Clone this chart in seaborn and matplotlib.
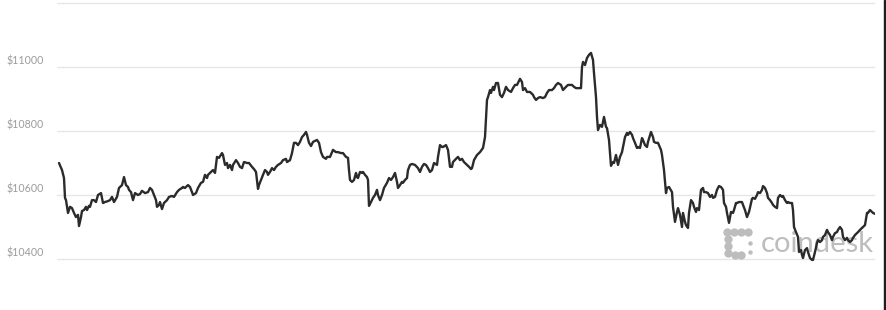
import matplotlib
matplotlib.use("Agg")
import matplotlib.pyplot as plt
from matplotlib.transforms import ScaledTranslation
from matplotlib.lines import Line2D
import seaborn as sns
import pandas as pd

# time (arbitrary minute-like units along the day) and BTC price (USD)
t = [59,62,64,65,66,68,70,72,74,76,78,79,81,82,84,86,87,89,90,92,94,96,98,101,103,105,108,110,112,114,117,119,122,124,126,128,129,131,133,135,138,140,142,145,148,150,152,154,156,157,159,160,162,164,167,169,172,174,177,179,182,183,185,188,190,192,193,196,198,201,203,205,207,208,211,213,215,217,219,222,223,225,227,228,230,232,233,236,238,240,242,244,247,249,252,254,256,258,259,261,263,265,267,268,270,272,274,276,278,281,283,286,287,290,292,294,296,298,300,302,304,306,307,309,311,313,315,317,319,321,323,326,327,329,330,333,336,338,341,343,346,348,349,350,352,354,356,357,358,360,362,363,365,367,368,369,371,373,375,377,378,380,382,384,387,389,391,393,395,397,398,400,402,403,405,407,408,410,412,415,418,420,422,424,426,428,430,432,434,437,438,440,442,443,446,448,450,452,453,456,458,460,462,464,467,469,471,472,474,477,480,483,485,487,488,490,491,493,494,496,498,500,502,504,506,508,511,513,515,517,520,522,523,525,527,530,533,534,536,538,540,543,545,547,549,552,554,556,558,561,563,566,568,572,574,576,578,581,582,583,585,587,589,591,593,594,596,597,598,600,602,604,606,607,609,611,613,614,616,617,618,620,622,623,625,627,628,630,632,633,635,637,638,640,642,643,645,647,648,651,653,654,656,658,661,662,664,666,667,669,672,673,675,677,678,680,682,683,685,686,688,689,691,693,694,696,697,699,701,703,704,706,708,710,712,713,715,717,719,721,723,724,726,727,729,731,733,734,736,737,739,742,743,745,747,749,752,753,755,757,758,760,762,763,765,767,768,770,772,773,775,777,778,780,782,783,785,787,788,790,792,793,794,796,798,799,801,802,803,805,807,808,810,812,813,815,817,818,820,822,823,825,827,828,830,832,833,835,837,838,840,842,843,845,847,848,850,852,853,855,857,858,860,862,863,865,867,868,870,872,873,875]

price = [10700,10678,10653,10591,10584,10544,10563,10559,10544,10531,10538,10503,10531,10550,10553,10563,10553,10566,10563,10584,10584,10578,10600,10606,10575,10578,10581,10584,10594,10578,10594,10622,10631,10656,10631,10625,10616,10609,10584,10606,10600,10603,10613,10606,10609,10622,10616,10600,10584,10563,10569,10578,10556,10575,10584,10594,10597,10594,10609,10616,10622,10625,10622,10631,10625,10609,10600,10606,10622,10638,10641,10663,10653,10663,10672,10678,10669,10719,10716,10731,10725,10694,10700,10684,10694,10678,10694,10709,10700,10688,10684,10703,10700,10700,10688,10681,10672,10619,10631,10647,10663,10678,10672,10663,10672,10684,10678,10688,10694,10700,10709,10713,10703,10709,10731,10763,10763,10756,10766,10781,10788,10797,10788,10763,10753,10766,10769,10772,10763,10734,10719,10713,10719,10719,10719,10741,10734,10734,10731,10731,10719,10716,10678,10647,10641,10647,10669,10656,10653,10672,10669,10672,10663,10656,10647,10566,10578,10591,10600,10616,10600,10584,10600,10622,10638,10653,10647,10656,10669,10641,10622,10631,10641,10638,10647,10653,10678,10694,10697,10694,10684,10672,10688,10697,10694,10684,10672,10678,10700,10694,10719,10756,10750,10750,10756,10741,10688,10688,10703,10713,10719,10709,10713,10703,10694,10688,10681,10684,10709,10725,10734,10747,10781,10897,10906,10928,10919,10938,10928,10950,10950,10913,10906,10919,10938,10928,10922,10934,10944,10944,10963,10953,10928,10934,10922,10922,10913,10906,10897,10903,10906,10903,10906,10919,10928,10928,10934,10944,10950,10944,10928,10938,10944,10944,10938,10934,10934,10934,11000,11016,11006,11028,11038,11044,11022,10981,10906,10844,10803,10819,10813,10844,10813,10809,10772,10691,10703,10700,10725,10709,10694,10719,10734,10750,10781,10794,10788,10797,10788,10778,10763,10747,10750,10747,10778,10772,10756,10750,10766,10797,10781,10766,10763,10763,10741,10725,10678,10606,10622,10625,10609,10563,10516,10547,10559,10538,10500,10544,10516,10506,10497,10544,10584,10575,10563,10547,10559,10553,10616,10622,10609,10609,10606,10594,10600,10591,10594,10616,10628,10625,10616,10575,10563,10544,10513,10547,10544,10553,10575,10575,10578,10578,10569,10553,10531,10547,10588,10591,10588,10600,10609,10606,10616,10628,10622,10606,10591,10584,10575,10569,10563,10559,10591,10600,10594,10597,10584,10575,10578,10575,10575,10553,10500,10484,10469,10422,10428,10413,10403,10428,10434,10422,10403,10397,10397,10422,10450,10459,10453,10459,10469,10475,10491,10484,10475,10459,10469,10481,10484,10491,10500,10491,10469,10459,10466,10459,10453,10459,10466,10475,10481,10484,10491,10497,10500,10506,10544,10544,10553,10547,10544,10541]

y_ticks = [10400, 10600, 10800, 11000, 11200]
y_labels = ["$10400", "$10600", "$10800", "$11000", ""]

if len(t) != len(price):
    raise SystemExit(f"length mismatch t={len(t)} price={len(price)}")

df = pd.DataFrame({"t": t, "price": price})

sns.set_style("white")
plt.rcParams["font.family"] = ["Lato", "DejaVu Sans"]

W, H = 887, 310
fig = plt.figure(figsize=(W / 100, H / 100), dpi=100)
ax = fig.add_axes([57 / W, 0, 818 / W, 1])

sns.lineplot(data=df, x="t", y="price", ax=ax, color="#2b2b2b",
             linewidth=1.7, zorder=3)

ax.set_xlim(57, 875)
ax.set_ylim(10240.6, 11209.4)
ax.set_yticks(y_ticks)
ax.set_yticklabels([])
ax.set_xticks([])
ax.set_xlabel("")
ax.set_ylabel("")
ax.grid(axis="y", color="#e6e6e6", linewidth=1)
ax.grid(axis="x", visible=False)
ax.tick_params(axis="y", length=0)
for s in ax.spines.values():
    s.set_visible(False)

lab_tr = ax.get_yaxis_transform() + ScaledTranslation(-13 / 100, 6 / 100, fig.dpi_scale_trans)
for v, lab in zip(y_ticks, y_labels):
    ax.text(0, v, lab, transform=lab_tr, ha="right", va="center",
            fontsize=7.7, color="#9c9c9c")

# watermark (behind the line)
def axfrac(px, py):
    return ((px - 57) / 818, 1 - py / H)

wm = "#bdbdbd"
wx, wy = axfrac(761, 252)
ax.text(wx, wy, "coindesk", transform=ax.transAxes, fontsize=21,
        color=wm, ha="left", va="baseline", zorder=1)
for p in [(727, 232), (734, 232), (741, 232), (748, 232),
          (728, 239), (728, 246), (728, 253), (735, 255), (741, 255)]:
    a = axfrac(*p)
    ax.add_line(Line2D([a[0]], [a[1]], transform=ax.transAxes, marker="o",
                       markersize=5, color=wm, linestyle="none", zorder=1))
for p in [(750, 243), (750, 252)]:
    a = axfrac(*p)
    ax.add_line(Line2D([a[0]], [a[1]], transform=ax.transAxes, marker="o",
                       markersize=2.2, color=wm, linestyle="none", zorder=1))

# dark frame edge at right
fig.patches.append(plt.Rectangle((884 / W, 0), 3 / W, 1, transform=fig.transFigure,
                                 color="#1e1e1e", zorder=0))

fig.savefig("out.png", dpi=100)
